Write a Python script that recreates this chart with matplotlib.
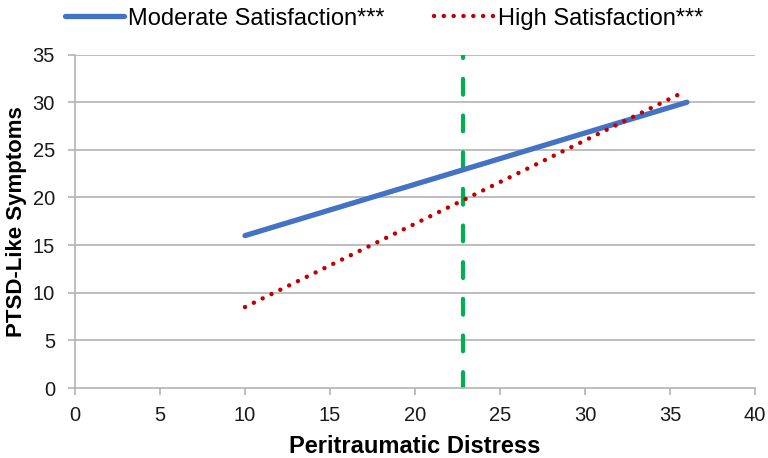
import numpy as np
import matplotlib
matplotlib.use("Agg")
import matplotlib.pyplot as plt

plt.rcParams["font.family"] = ["Liberation Sans", "DejaVu Sans"]

# line endpoints
moderate_x = [10, 36]
moderate_y = [16, 30]
high_x = [10, 35.5]
high_y = [8.5, 30.8]
cutoff_x = 22.85

xticks = [0, 5, 10, 15, 20, 25, 30, 35, 40]
yticks = [0, 5, 10, 15, 20, 25, 30, 35]

fig = plt.figure(figsize=(7.68, 4.58), dpi=100)
ax = fig.add_axes([0.0977, 0.1528, 0.8853, 0.728])

grid_col = "#b3b3b3"
for y in yticks[1:]:
    ax.axhline(y, color=grid_col, lw=1.2, zorder=1)

ax.axvline(cutoff_x, color="#00b050", lw=3, ls=(0, (3.8, 5)),
           dash_capstyle="round", zorder=2)
l1, = ax.plot(moderate_x, moderate_y, color="#4472c4", lw=3.8, solid_capstyle="round",
              zorder=3, label="Moderate Satisfaction***")
l2, = ax.plot(high_x, high_y, color="#c00000", lw=3.2, ls=(0, (0.01, 2.2)),
              dash_capstyle="round", zorder=4, label="High Satisfaction***")

ax.set_xlim(0, 40)
ax.set_ylim(0, 35)
ax.set_xticks(xticks)
ax.set_yticks(yticks)
for s in ["top", "right"]:
    ax.spines[s].set_visible(False)
for s in ["left", "bottom"]:
    ax.spines[s].set_color(grid_col)
    ax.spines[s].set_linewidth(1.2)
ax.tick_params(axis="both", colors=grid_col, length=5, width=1.2,
               labelcolor="#1a1a1a", direction="out")
ax.tick_params(axis="y", pad=9.5, labelsize=14.5)
ax.tick_params(axis="x", pad=8, labelsize=14.5)

ax.set_xlabel("Peritraumatic Distress", fontsize=17, fontweight="bold")
ax.set_ylabel("PTSD-Like Symptoms", fontsize=16, fontweight="bold")
ax.xaxis.set_label_coords(0.5, -0.14)
ax.yaxis.set_label_coords(-0.071, 0.5)

fig.legend(handles=[l1, l2], loc="upper center", bbox_to_anchor=(0.5, 1.03), ncol=2,
           frameon=False, fontsize=17, handlelength=2.5, handletextpad=0.2,
           columnspacing=2.1)

fig.savefig("out.png", dpi=100)
